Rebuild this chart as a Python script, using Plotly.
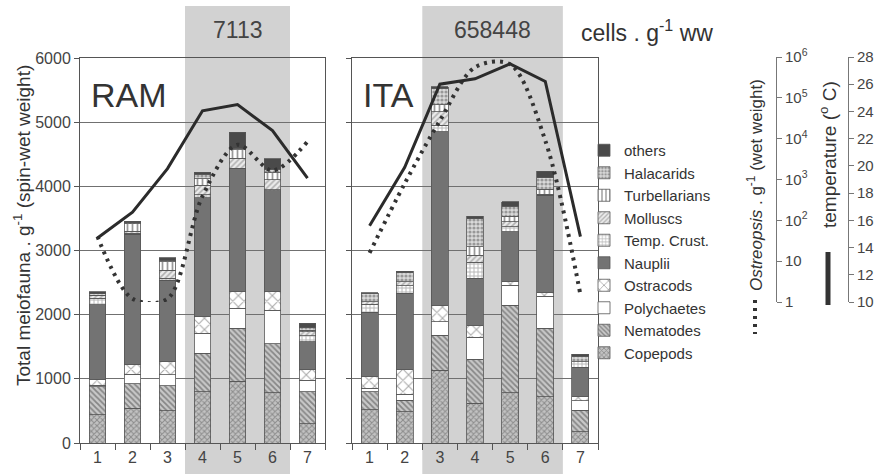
import plotly.graph_objects as go

# ---------------- data ----------------
categories = ["1", "2", "3", "4", "5", "6", "7"]
groups = ["Copepods", "Nematodes", "Polychaetes", "Ostracods", "Nauplii",
          "Temp. Crust.", "Molluscs", "Turbellarians", "Halacarids", "others"]

# RAM site (stacked, individuals . g-1)
ram_copepods      = [440, 540, 500, 800, 960, 780, 300]
ram_nematodes     = [440, 380, 390, 600, 830, 770, 500]
ram_polychaetes   = [20, 150, 170, 310, 310, 520, 180]
ram_ostracods     = [90, 160, 210, 260, 260, 285, 160]
ram_nauplii       = [1165, 2020, 1270, 1850, 1920, 1575, 440]
ram_tempcrust     = [100, 20, 25, 50, 0, 20, 95]
ram_molluscs      = [50, 30, 130, 150, 155, 150, 60]
ram_turbellarians = [0, 120, 130, 100, 135, 110, 20]
ram_halacarids    = [20, 10, 25, 70, 20, 55, 45]
ram_others        = [30, 25, 37, 30, 250, 165, 70]

# ITA site
ita_copepods      = [520, 490, 1137, 620, 780, 722, 176]
ita_nematodes     = [280, 180, 546, 685, 1370, 1065, 338]
ita_polychaetes   = [50, 90, 207, 340, 310, 503, 146]
ita_ostracods     = [180, 380, 260, 180, 50, 52, 62]
ita_nauplii       = [1010, 1190, 2700, 740, 780, 1522, 457]
ita_tempcrust     = [120, 120, 105, 250, 80, 0, 88]
ita_molluscs      = [40, 60, 210, 110, 75, 15, 0]
ita_turbellarians = [0, 0, 105, 130, 90, 75, 0]
ita_halacarids    = [130, 150, 255, 440, 155, 180, 88]
ita_others        = [15, 15, 25, 35, 70, 105, 32]

# lines
ram_temperature = [14.7, 16.6, 19.8, 24.05, 24.5, 22.6, 19.1]
ita_temperature = [15.6, 19.9, 26.0, 26.4, 27.5, 26.2, 14.8]
ram_ostreopsis  = [40, 1.2, 1.2, 390, 7113, 1660, 8500]
ita_ostreopsis  = [16, 800, 27500, 560000, 658448, 9000, 1.5]

bloom_labels = ["7113", "658448"]
ostreo_ticks = [1, 10, 100, 1000, 10000, 100000, 1000000]
ostreo_ticktext = ["1", "10", "10<sup>2</sup>", "10<sup>3</sup>", "10<sup>4</sup>",
                   "10<sup>5</sup>", "10<sup>6</sup>"]

ram = [ram_copepods, ram_nematodes, ram_polychaetes, ram_ostracods, ram_nauplii,
       ram_tempcrust, ram_molluscs, ram_turbellarians, ram_halacarids, ram_others]
ita = [ita_copepods, ita_nematodes, ita_polychaetes, ita_ostracods, ita_nauplii,
       ita_tempcrust, ita_molluscs, ita_turbellarians, ita_halacarids, ita_others]

# ---------------- styles ----------------
FONT = "Liberation Sans, Arial, sans-serif"
W, H = 877, 474
def px(x): return x / W
def py(y): return 1 - y / H

styles = {
    "Copepods": dict(color="#c2c2c2", pattern=dict(shape="x", size=4, solidity=0.45, fgcolor="#555555")),
    "Nematodes": dict(color="#c8c8c8", pattern=dict(shape="\\", size=4, solidity=0.45, fgcolor="#444444")),
    "Polychaetes": dict(color="#ffffff"),
    "Ostracods": dict(color="#ffffff", pattern=dict(shape="x", size=8, solidity=0.25, fgcolor="#555555")),
    "Nauplii": dict(color="#737373"),
    "Temp. Crust.": dict(color="#ffffff", pattern=dict(shape="+", size=4, solidity=0.4, fgcolor="#666666")),
    "Molluscs": dict(color="#ebebeb", pattern=dict(shape="/", size=4, solidity=0.4, fgcolor="#777777")),
    "Turbellarians": dict(color="#ffffff", pattern=dict(shape="|", size=5, solidity=0.35, fgcolor="#333333")),
    "Halacarids": dict(color="#dadada", pattern=dict(shape=".", size=4, solidity=0.5, fgcolor="#555555")),
    "others": dict(color="#4a4a4a"),
}

fig = go.Figure()
for name, rv, iv in zip(groups, ram, ita):
    st = styles[name]
    mk = dict(color=st["color"], line=dict(color="#555555", width=0.8))
    if "pattern" in st:
        mk["pattern"] = st["pattern"]
    fig.add_bar(x=categories, y=rv, name=name, xaxis="x", yaxis="y", marker=mk,
                width=0.48, legendgroup=name, showlegend=True)
    fig.add_bar(x=categories, y=iv, name=name, xaxis="x2", yaxis="y2", marker=mk,
                width=0.48, legendgroup=name, showlegend=False)

solid = dict(color="#2b2b2b", width=3)
dotted = dict(color="#333333", width=4, dash="3px,5px", shape="spline", smoothing=0.9)
fig.add_scatter(x=categories, y=ram_temperature, xaxis="x", yaxis="y4", mode="lines",
                line=solid, showlegend=False, cliponaxis=False)
fig.add_scatter(x=categories, y=ita_temperature, xaxis="x2", yaxis="y4", mode="lines",
                line=solid, showlegend=False, cliponaxis=False)
fig.add_scatter(x=categories, y=ram_ostreopsis, xaxis="x", yaxis="y3", mode="lines",
                line=dotted, showlegend=False, cliponaxis=False)
fig.add_scatter(x=categories, y=ita_ostreopsis, xaxis="x2", yaxis="y3", mode="lines",
                line=dotted, showlegend=False, cliponaxis=False)

axcol = "#555555"
tickfont = dict(family=FONT, size=16, color="#444444")
xcommon = dict(type="category", range=[-0.5, 6.5], showline=True, linecolor=axcol, linewidth=1,
               mirror=True, ticks="outside", tickson="boundaries", ticklen=6, tickcolor=axcol,
               tickfont=tickfont, showgrid=False, zeroline=False, automargin=False)
ycommon = dict(range=[0, 6000], dtick=1000, showline=True, linecolor=axcol, linewidth=1,
               mirror=True, ticks="outside", ticklen=5, tickcolor=axcol, tickfont=tickfont,
               showgrid=True, gridcolor="#707070", gridwidth=1, zeroline=False, automargin=False)
ydom = [py(443), py(58)]
rdom = [py(302), py(57)]

fig.update_layout(
    width=W, height=H, autosize=False,
    margin=dict(l=0, r=0, t=0, b=0, pad=0, autoexpand=False),
    paper_bgcolor="white", plot_bgcolor="rgba(0,0,0,0)",
    barmode="stack", bargap=0.5,
    font=dict(family=FONT, color="#333333"),
    xaxis=dict(domain=[px(80), px(325)], anchor="y", **xcommon),
    xaxis2=dict(domain=[px(352), px(598)], anchor="y2", **xcommon),
    yaxis=dict(domain=ydom, anchor="x", **ycommon),
    yaxis2=dict(domain=ydom, anchor="x2", showticklabels=False, **ycommon),
    yaxis3=dict(domain=rdom, anchor="free", position=px(776), side="right", type="log",
                range=[0, 6], tickvals=ostreo_ticks, ticktext=ostreo_ticktext,
                showline=True, linecolor="#777777", ticks="outside", ticklen=5,
                tickcolor="#777777", showgrid=False, zeroline=False, automargin=False,
                tickfont=dict(family=FONT, size=15, color="#444444")),
    yaxis4=dict(domain=rdom, anchor="free", position=px(848), side="right",
                range=[10, 28], dtick=2, showline=True, linecolor="#777777",
                ticks="outside", ticklen=5, tickcolor="#777777", showgrid=False,
                zeroline=False, automargin=False,
                tickfont=dict(family=FONT, size=15, color="#444444")),
    legend=dict(x=px(584), y=py(134), xanchor="left", yanchor="top",
                traceorder="reversed", bgcolor="rgba(0,0,0,0)",
                font=dict(family=FONT, size=15, color="#333333"), tracegroupgap=0),
)

# bloom-period shading (categories 4-6 in RAM, 3-6 in ITA)
fig.add_shape(type="rect", xref="x", yref="paper", x0=2.5, x1=5.5, y0=0, y1=py(6),
              fillcolor="#d2d2d2", line=dict(width=0), layer="below")
fig.add_shape(type="rect", xref="x2", yref="paper", x0=1.5, x1=5.5, y0=0, y1=py(6),
              fillcolor="#d2d2d2", line=dict(width=0), layer="below")

# key samples for the line axes
fig.add_shape(type="line", xref="paper", yref="paper", x0=px(755), x1=px(755),
              y0=py(300), y1=py(334), line=dict(color="#333333", width=4, dash="3px,5px"))
fig.add_shape(type="line", xref="paper", yref="paper", x0=px(828), x1=px(828),
              y0=py(252), y1=py(305), line=dict(color="#333333", width=5))

ann = [
    dict(text="RAM", x=px(89), y=py(95), xanchor="left", yanchor="middle",
         font=dict(size=34, color="#333333")),
    dict(text="ITA", x=px(361), y=py(95), xanchor="left", yanchor="middle",
         font=dict(size=34, color="#333333")),
    dict(text=bloom_labels[0], x=4, xref="x", y=py(30), yanchor="middle",
         font=dict(size=23, color="#444444")),
    dict(text=bloom_labels[1], x=3.5, xref="x2", y=py(30), yanchor="middle",
         font=dict(size=23, color="#444444")),
    dict(text="cells . g<sup>-1</sup> ww", x=px(579), y=py(31), xanchor="left",
         yanchor="middle", font=dict(size=23, color="#333333")),
    dict(text="Total meiofauna . g<sup>-1</sup> (spin-wet weight)", x=px(22), y=py(226),
         textangle=-90, xanchor="center", yanchor="middle",
         font=dict(size=19, color="#333333")),
    dict(text="<i>Ostreopsis</i> . g<sup>-1</sup> (wet weight)", x=px(755), y=py(185),
         textangle=-90, xanchor="center", yanchor="middle",
         font=dict(size=17, color="#333333")),
    dict(text="temperature (<sup>o</sup> C)", x=px(828), y=py(155),
         textangle=-90, xanchor="center", yanchor="middle",
         font=dict(size=19, color="#333333")),
]
for a in ann:
    a.setdefault("xref", "paper")
    a.setdefault("yref", "paper")
    a["showarrow"] = False
    a["font"]["family"] = FONT
    fig.add_annotation(**a)

fig.write_html("out.html", config={"displayModeBar": False},
               post_script="document.body.style.margin='0';document.body.style.overflow='hidden';")
